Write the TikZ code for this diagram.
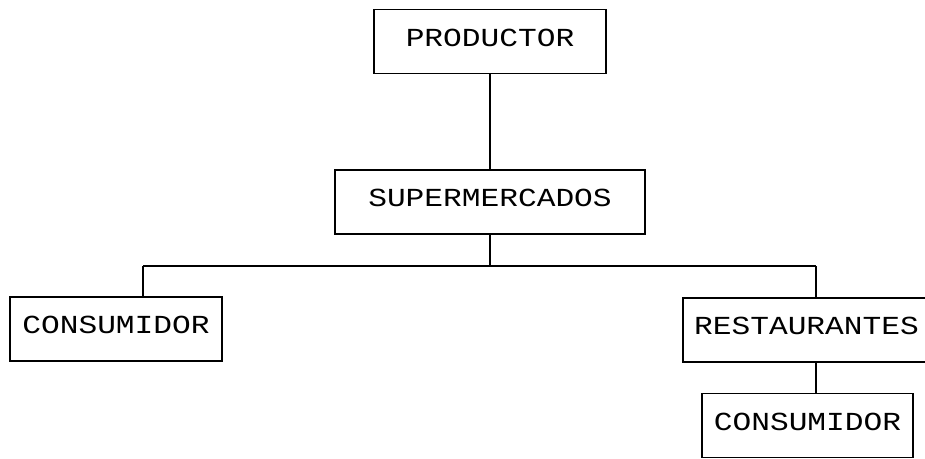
\documentclass[tikz,border=0pt]{standalone}
\usepackage{fontspec}
\newfontfamily\printfont[FakeStretch=1.2]{Liberation Mono}
\begin{document}
\begin{tikzpicture}[x=1pt, y=-1pt, line width=1.3pt,
   caja/.style={draw, minimum height=64pt, inner sep=0pt, text depth=8pt,
     font=\printfont\fontsize{26}{26}\selectfont}]
   \useasboundingbox (0, 0) rectangle (925, 458);
   \node[caja, minimum width=232pt] (prod) at (490, 41.5) {PRODUCTOR};
   \node[caja, minimum width=310pt] (super) at (490, 202) {SUPERMERCADOS};
   \node[caja, minimum width=212pt] (cons) at (116, 329) {CONSUMIDOR};
   \node[caja, minimum width=247pt] (rest) at (806.5, 330) {RESTAURANTES};
   \node[caja, minimum width=211pt] (cons2) at (807.5, 425.5) {CONSUMIDOR};
   \coordinate (bus) at (490, 266);
   \coordinate (ltap) at (143, 266);
   \coordinate (rtap) at (816, 266);
   \draw (prod) -- (super);
   \draw (super) -- (bus);
   \draw (ltap) -- (rtap);
   \draw (ltap) -- (ltap |- cons.north);
   \draw (rtap) -- (rtap |- rest.north);
   \draw (rtap |- rest.south) -- (rtap |- cons2.north);
  \end{tikzpicture}
\end{document}
